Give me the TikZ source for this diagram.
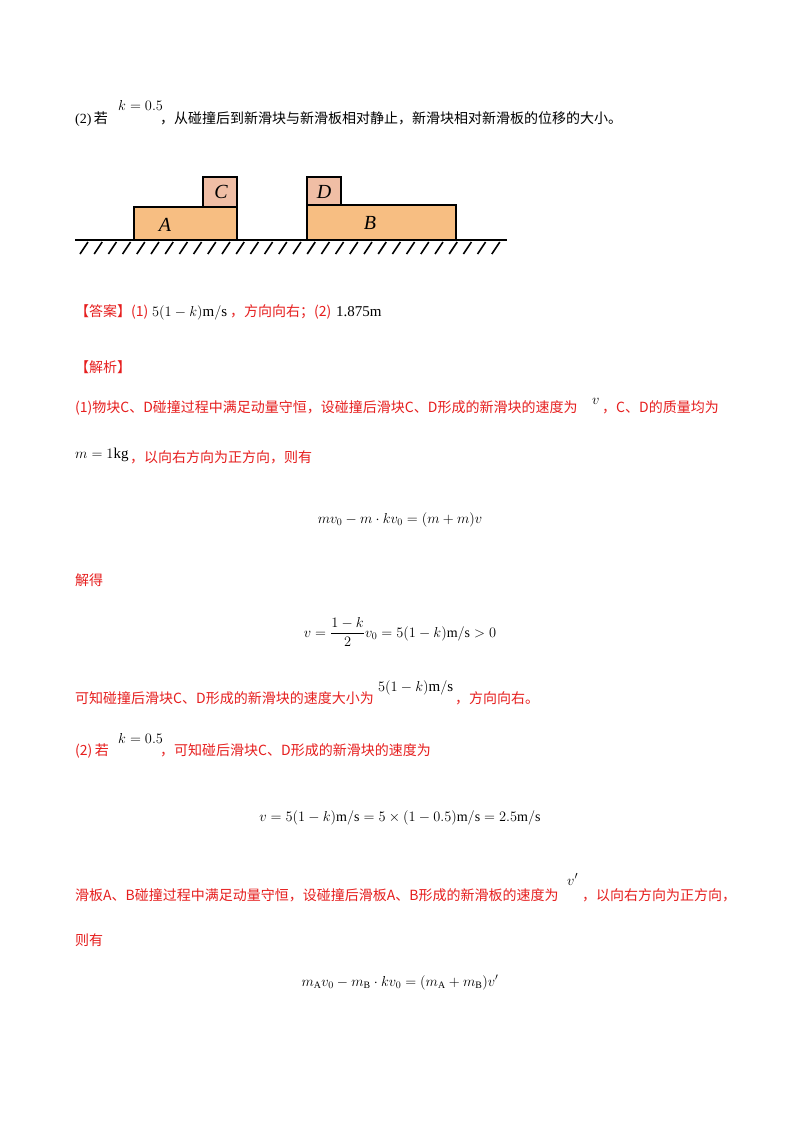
\documentclass[tikz,border=0pt]{standalone}
\usepackage{amsmath}
\usepackage{fontspec}
\setmainfont{Liberation Serif}
\newfontfamily\cjk{Noto Sans CJK SC}
\definecolor{ans}{RGB}{230,30,30}
\definecolor{boardc}{RGB}{247,190,130}
\definecolor{blockc}{RGB}{240,190,165}
\begin{document}
\begin{tikzpicture}[x=1pt,y=-1pt,
  t/.style={anchor=base west,inner sep=0pt,font=\fontsize{14}{16}\selectfont},
  mt/.style={anchor=base west,inner sep=0pt,font=\fontsize{15}{17}\selectfont},
  r/.style={t,text=ans},
  eq/.style={anchor=base,inner sep=0pt,font=\fontsize{14}{16}\selectfont},
  box/.style={draw=black,line width=2pt},
  lab/.style={font=\fontsize{20}{22}\selectfont\itshape}]
\useasboundingbox (0,0) rectangle (800,1132);
\fill[white] (0,0) rectangle (800,1132);
% line 1
\node[t] (l1a) at (75,123) {(2)\,{\cjk 若}};
\node[mt] (l1k) at (118,110) {$k=0.5$};
\node[t] (l1b) at (160,123) {\cjk ，从碰撞后到新滑块与新滑板相对静止，新滑块相对新滑板的位移的大小。};
% diagram
\draw[box,fill=boardc] (134,207) rectangle (237,240);
\draw[box,fill=blockc] (203,177) rectangle (237,207);
\draw[box,fill=boardc] (307,205) rectangle (456,240);
\draw[box,fill=blockc] (307,177) rectangle (341,205);
\node[lab] (A) at (165,225) {A};
\node[lab] (C) at (221,192) {C};
\node[lab] (B) at (370,223) {B};
\node[lab] (D) at (324,192) {D};
\draw[line width=2pt] (75,240) -- (507,240);
\foreach \i in {0,...,29} {\draw[line width=1.6pt] ({88+14.2*\i},242) -- ({80+14.2*\i},254);}
% answer
\node[r] (ans) at (75,316) {\cjk 【答案】(1)};
\node[mt] (ans1) at (152,316) {$5(1-k)\mathrm{m/s}$};
\node[r] (ans2) at (230,316) {\cjk ，方向向右；(2)};
\node[mt] (ans3) at (336,316) {1.875m};
\node[r] (jx) at (75,372) {\cjk 【解析】};
\node[r] (p1) at (75,412) {\cjk (1)物块C、D碰撞过程中满足动量守恒，设碰撞后滑块C、D形成的新滑块的速度为};
\node[mt] (p1v) at (592,404) {$v$};
\node[r] (p1b) at (602,412) {\cjk ，C、D的质量均为};
\node[mt] (p2m) at (75,458) {$m=1\mathrm{kg}$};
\node[r] (p2) at (130,462) {\cjk ，以向右方向为正方向，则有};
\node[eq] (e1) at (400,523) {$mv_0-m\cdot kv_0=(m+m)v$};
\node[r] (jd) at (75,585) {\cjk 解得};
\node[eq] (e2) at (400,637) {$v=\dfrac{1-k}{2}v_0=5(1-k)\mathrm{m/s}>0$};
\node[r] (p3) at (75,703) {\cjk 可知碰撞后滑块C、D形成的新滑块的速度大小为};
\node[mt] (p3v) at (378,691) {$5(1-k)\mathrm{m/s}$};
\node[r] (p3b) at (455,703) {\cjk ，方向向右。};
\node[r] (p4) at (75,755) {\cjk (2)\,若};
\node[mt] (p4k) at (118,743) {$k=0.5$};
\node[r] (p4b) at (160,755) {\cjk ，可知碰后滑块C、D形成的新滑块的速度为};
\node[eq] (e3) at (400,821) {$v=5(1-k)\mathrm{m/s}=5\times(1-0.5)\mathrm{m/s}=2.5\mathrm{m/s}$};
\node[r] (p5) at (75,900) {\cjk 滑板A、B碰撞过程中满足动量守恒，设碰撞后滑板A、B形成的新滑板的速度为};
\node[mt] (p5v) at (567,885) {$v'$};
\node[r] (p5b) at (582,900) {\cjk ，以向右方向为正方向，};
\node[r] (p6) at (75,945) {\cjk 则有};
\node[eq] (e4) at (400,986) {$m_{\mathrm A}v_0-m_{\mathrm B}\cdot kv_0=(m_{\mathrm A}+m_{\mathrm B})v'$};
\end{tikzpicture}
\end{document}
